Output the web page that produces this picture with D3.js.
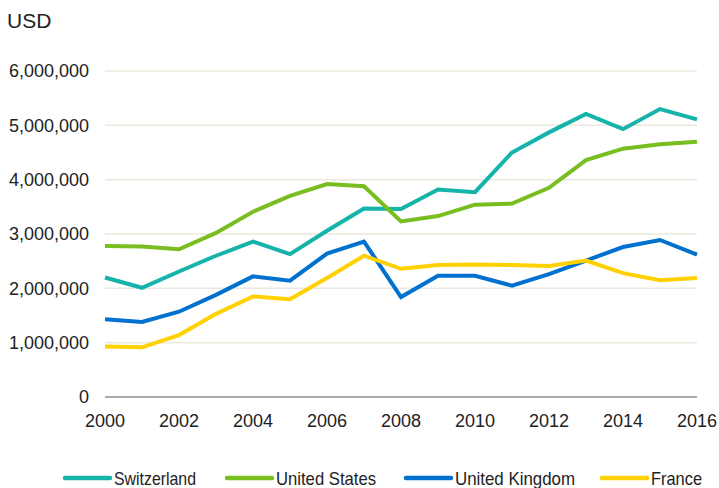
<!DOCTYPE html>
<html>
<head>
<meta charset="utf-8">
<script src="https://cdn.jsdelivr.net/npm/d3@7"></script>
<style>
  body { margin: 0; background: #fff; }
  text { font-family: "Liberation Sans", Arial, sans-serif; fill: #222; }
</style>
</head>
<body>
<div id="chart"></div>
<script>
const years = d3.range(2000, 2017);
const switzerland = [2200000, 2010000, 2310000, 2600000, 2860000, 2630000, 3060000, 3470000, 3460000, 3820000, 3770000, 4500000, 4870000, 5210000, 4930000, 5300000, 5110000];
const unitedStates = [2780000, 2770000, 2720000, 3020000, 3410000, 3700000, 3920000, 3880000, 3230000, 3330000, 3540000, 3560000, 3850000, 4360000, 4570000, 4650000, 4700000];
const unitedKingdom = [1430000, 1380000, 1570000, 1880000, 2220000, 2140000, 2640000, 2860000, 1840000, 2230000, 2230000, 2050000, 2260000, 2510000, 2760000, 2890000, 2620000];
const france = [930000, 915000, 1140000, 1530000, 1850000, 1800000, 2190000, 2600000, 2360000, 2430000, 2440000, 2430000, 2410000, 2510000, 2280000, 2150000, 2190000];
const seriesNames = ["Switzerland", "United States", "United Kingdom", "France"];
const seriesColors = ["#16b3aa", "#78be21", "#0071ce", "#ffd100"];
const yTicks = [0, 1000000, 2000000, 3000000, 4000000, 5000000, 6000000];
const xTicks = [2000, 2002, 2004, 2006, 2008, 2010, 2012, 2014, 2016];

const series = [switzerland, unitedStates, unitedKingdom, france];

const width = 719, height = 488;
const margin = { top: 71, right: 22, bottom: 91, left: 105 };

const svg = d3.select("#chart").append("svg")
  .attr("width", width)
  .attr("height", height);

const x = d3.scaleLinear()
  .domain([2000, 2016])
  .range([margin.left, width - margin.right]);

const y = d3.scaleLinear()
  .domain([0, 6000000])
  .range([height - margin.bottom, margin.top]);

// gridlines
svg.append("g")
  .selectAll("line")
  .data(yTicks)
  .join("line")
  .attr("x1", x(2000))
  .attr("x2", x(2016))
  .attr("y1", d => y(d))
  .attr("y2", d => y(d))
  .attr("stroke", d => d === 0 ? "#8c8c8c" : "#ece8de")
  .attr("stroke-width", d => d === 0 ? 1.3 : 1.5);

// y axis labels
svg.append("g")
  .selectAll("text")
  .data(yTicks)
  .join("text")
  .attr("x", 89)
  .attr("y", d => y(d))
  .attr("dy", "0.36em")
  .attr("text-anchor", "end")
  .style("font-size", "18px")
  .text(d => d3.format(",")(d));

// x axis labels
svg.append("g")
  .selectAll("text")
  .data(xTicks)
  .join("text")
  .attr("x", d => x(d))
  .attr("y", 427)
  .attr("text-anchor", "middle")
  .style("font-size", "18px")
  .text(d => d);

svg.append("text")
  .attr("x", 7)
  .attr("y", 28)
  .style("font-size", "21px")
  .text("USD");

const line = d3.line()
  .x((d, i) => x(years[i]))
  .y(d => y(d));

svg.append("g")
  .selectAll("path")
  .data(series)
  .join("path")
  .attr("d", line)
  .attr("fill", "none")
  .attr("stroke", (d, i) => seriesColors[i])
  .attr("stroke-width", 4)
  .attr("stroke-linejoin", "miter");

// legend
const legendX = [63, 225, 404, 600];
const legendTextW = [82, 100, 120, 51];
const legend = svg.append("g")
  .selectAll("g")
  .data(seriesNames)
  .join("g")
  .attr("transform", (d, i) => `translate(${legendX[i]},478)`);

legend.append("line")
  .attr("x1", 2)
  .attr("x2", 47)
  .attr("stroke", (d, i) => seriesColors[i])
  .attr("stroke-width", 4.5)
  .attr("stroke-linecap", "round");

legend.append("text")
  .attr("x", 51)
  .attr("dy", "0.36em")
  .style("font-size", "19px")
  .attr("textLength", (d, i) => legendTextW[i])
  .attr("lengthAdjust", "spacingAndGlyphs")
  .text(d => d);
</script>
</body>
</html>
